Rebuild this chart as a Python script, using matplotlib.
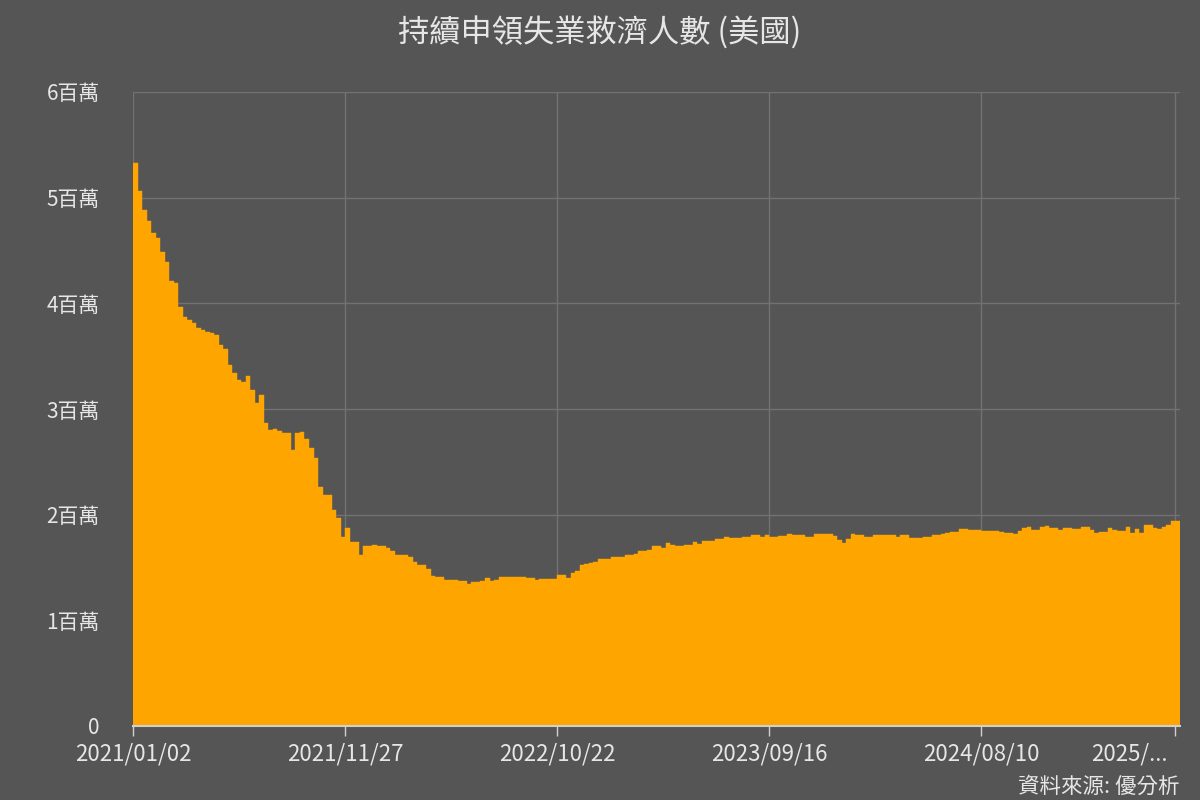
import matplotlib.pyplot as plt
import matplotlib.transforms as mtransforms
import pandas as pd
from matplotlib.ticker import FuncFormatter

plt.rcParams['font.family'] = ['Noto Sans CJK TC', 'DejaVu Sans']

# weekly continuing claims, millions
claims_m = [
    5.33, 5.06, 4.88, 4.78, 4.67, 4.62, 4.49, 4.39, 4.21, 4.19,
    3.97, 3.87, 3.84, 3.81, 3.77, 3.75, 3.73, 3.72, 3.70, 3.61,
    3.57, 3.42, 3.34, 3.27, 3.26, 3.31, 3.18, 3.06, 3.13, 2.87,
    2.80, 2.81, 2.79, 2.77, 2.77, 2.61, 2.77, 2.78, 2.72, 2.63,
    2.54, 2.26, 2.19, 2.19, 2.04, 1.97, 1.79, 1.87, 1.74, 1.74,
    1.62, 1.70, 1.70, 1.71, 1.70, 1.70, 1.68, 1.66, 1.62, 1.62,
    1.62, 1.60, 1.55, 1.52, 1.52, 1.49, 1.42, 1.41, 1.41, 1.38,
    1.38, 1.38, 1.37, 1.37, 1.34, 1.36, 1.36, 1.37, 1.40, 1.37,
    1.38, 1.41, 1.41, 1.41, 1.41, 1.41, 1.41, 1.40, 1.40, 1.38,
    1.39, 1.39, 1.39, 1.39, 1.43, 1.43, 1.40, 1.45, 1.47, 1.52,
    1.53, 1.54, 1.555, 1.58, 1.58, 1.58, 1.60, 1.60, 1.60, 1.62,
    1.62, 1.63, 1.66, 1.66, 1.67, 1.70, 1.70, 1.68, 1.73, 1.71,
    1.70, 1.70, 1.71, 1.71, 1.74, 1.72, 1.75, 1.75, 1.75, 1.77,
    1.77, 1.785, 1.78, 1.78, 1.775, 1.79, 1.79, 1.81, 1.81, 1.79,
    1.81, 1.79, 1.79, 1.80, 1.80, 1.82, 1.81, 1.81, 1.81, 1.79,
    1.79, 1.82, 1.82, 1.82, 1.82, 1.80, 1.76, 1.73, 1.77, 1.82,
    1.81, 1.81, 1.785, 1.785, 1.81, 1.81, 1.81, 1.81, 1.81, 1.785,
    1.81, 1.81, 1.78, 1.775, 1.775, 1.785, 1.785, 1.81, 1.81, 1.82,
    1.83, 1.84, 1.84, 1.86, 1.86, 1.855, 1.855, 1.855, 1.845, 1.845,
    1.845, 1.845, 1.84, 1.83, 1.83, 1.82, 1.85, 1.87, 1.885, 1.855,
    1.855, 1.88, 1.89, 1.87, 1.87, 1.855, 1.87, 1.87, 1.86, 1.86,
    1.885, 1.885, 1.855, 1.83, 1.84, 1.84, 1.875, 1.855, 1.85, 1.85,
    1.885, 1.83, 1.86, 1.83, 1.90, 1.90, 1.87, 1.86, 1.885, 1.90,
    1.94, 1.94,
]
claims = [v * 1e6 for v in claims_m]

weeks = pd.date_range('2021-01-02', periods=len(claims), freq='7D')
week_labels = [d.strftime('%Y/%m/%d') for d in weeks]
tick_idx = [0, 47, 94, 141, 188, len(claims) - 1]
tick_labels = [week_labels[i] for i in tick_idx[:-1]] + ['2025/...']

bg = '#555555'
txt = '#e6e6e6'

fig = plt.figure(figsize=(12, 8), dpi=100, facecolor=bg)
ax = fig.add_axes([133 / 1200, 74 / 800, 1047 / 1200, 634 / 800])
ax.set_facecolor(bg)

ax.bar(range(len(claims)), claims, width=1.0, align='edge',
       color='#ffa500', edgecolor='#ffa500', linewidth=0.3, zorder=2)

ax.set_xlim(0, len(claims))
ax.set_ylim(0, 6e6)
ax.set_yticks([i * 1e6 for i in range(7)])
ax.yaxis.set_major_formatter(FuncFormatter(lambda v, p: '0' if v == 0 else '%d百萬' % round(v / 1e6)))
ax.set_xticks(tick_idx)
ax.set_xticklabels(tick_labels)

ax.grid(True, color='#727272', linewidth=1, zorder=0)
for s in ['top', 'right', 'left']:
    ax.spines[s].set_visible(False)
ax.spines['bottom'].set_color('#d0d0d0')
ax.spines['bottom'].set_linewidth(1.5)
ax.spines['bottom'].set_zorder(3)

ax.tick_params(axis='y', length=0, pad=24, labelsize=15, labelcolor=txt)
ax.tick_params(axis='x', length=7, color='#d0d0d0', width=1, pad=5,
               labelsize=16, labelcolor=txt)
for lab in ax.get_yticklabels():
    lab.set_horizontalalignment('right')

# last category label is squeezed left of its tick
last = ax.get_xticklabels()[-1]
last.set_horizontalalignment('right')
last.set_transform(last.get_transform() + mtransforms.ScaledTranslation(-8 / 100, 0, fig.dpi_scale_trans))

fig.text(0.5, 0.958, '持續申領失業救濟人數 (美國)', ha='center', va='center',
         fontsize=22.5, color=txt)
fig.text(1180 / 1200, 1 - 787 / 800, '資料來源: 優分析', ha='right', va='center',
         fontsize=15.5, color=txt)

fig.savefig('out.png', dpi=100, facecolor=bg)
